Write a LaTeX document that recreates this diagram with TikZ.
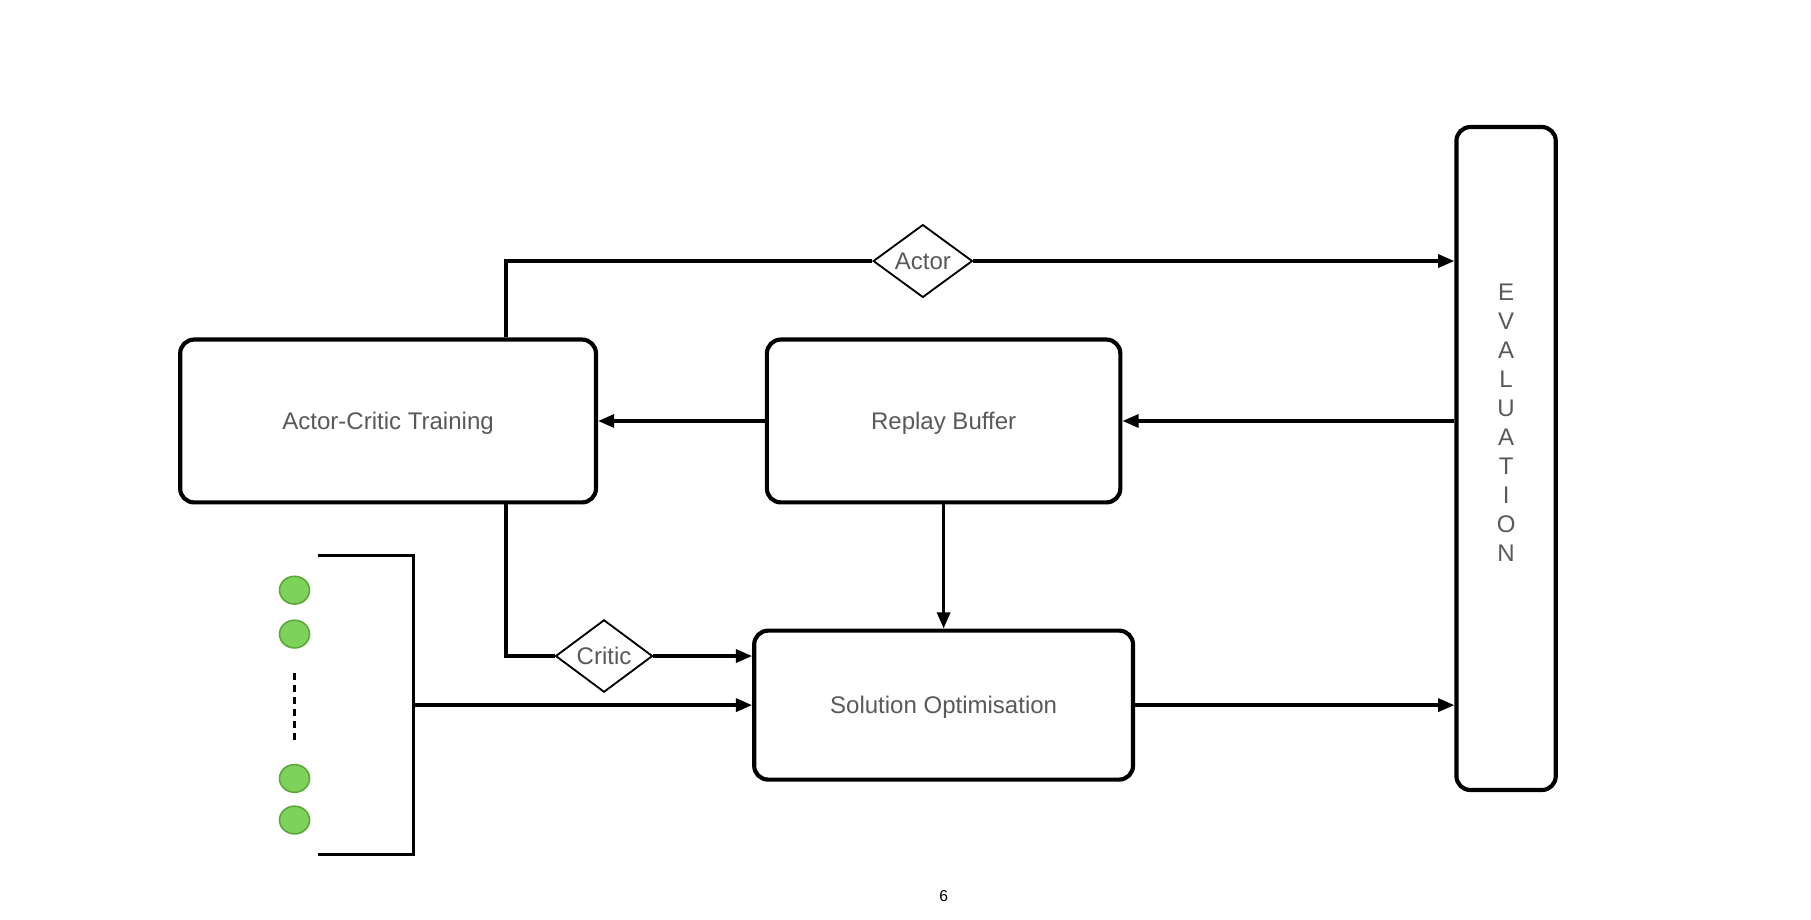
\documentclass[tikz,border=0pt]{standalone}
\usepackage{fontspec}
\setmainfont{Liberation Sans}
\usetikzlibrary{shapes.geometric,arrows.meta,calc}
\definecolor{txtgray}{HTML}{595959}
\definecolor{dotfill}{HTML}{7DD35A}
\definecolor{dotline}{HTML}{5DA83B}
\tikzset{
  box/.style={draw=black, line width=1.8pt, rounded corners=6pt, fill=white, inner sep=0pt,
    text=txtgray, font=\fontsize{10.4}{12.5}\selectfont, text depth=0pt},
  dia/.style={draw=black, line width=0.8pt, shape=diamond, inner sep=0pt, fill=white,
    text=txtgray, font=\fontsize{10.4}{12.5}\selectfont},
  conn/.style={line width=1.45pt},
  arr/.style={conn, -{Triangle[length=7pt,width=5.6pt]}},
  dot/.style={draw=dotline, line width=0.7pt, fill=dotfill, shape=ellipse, inner sep=0pt,
    minimum width=13pt, minimum height=12pt},
}
\begin{document}
\begin{tikzpicture}[x=0.5pt, y=-0.5pt]
\useasboundingbox (0,0) rectangle (1568,796);
% boxes
\node[box, minimum width=180pt, minimum height=70.5pt] (ac) at (336,364.5) {Actor-Critic Training};
\node[box, minimum width=153pt, minimum height=70.5pt] (rb) at (817,364.5) {Replay Buffer};
\node[box, minimum width=164pt, minimum height=64.5pt] (so) at (817,610.5) {Solution Optimisation};
\node[box, minimum width=43pt, minimum height=287pt] (ev) at (1304,397) {};
\node[text=txtgray, align=center, inner sep=0pt, font=\fontsize{10.4}{12.55}\selectfont] (evt) at (1304,366)
  {E\\V\\A\\L\\U\\A\\T\\I\\O\\N};
% diamonds
\node[dia, minimum width=43pt, minimum height=30pt] (actor) at (799,226) {Actor};
\node[dia, minimum width=42pt, minimum height=30pt] (critic) at (523,568) {Critic};
% connectors
\draw[conn] ([xshift=51pt]ac.north) |- (actor.west);
\draw[arr] (actor.east) -- (actor.east -| ev.west);
\draw[arr] (rb.west) -- (ac.east);
\draw[arr] (ev.west |- rb.east) -- (rb.east);
\draw[arr] (rb.south) -- (so.north);
\draw[conn] ([xshift=51pt]ac.south) |- (critic.west);
\draw[arr] (critic.east) -- (critic.east -| so.west);
\draw[arr] (so.east) -- (so.east -| ev.west);
% bracket
\coordinate (b1) at (275,481);
\coordinate (b2) at (358,481);
\coordinate (b3) at (358,740);
\coordinate (b4) at (275,740);
\coordinate (bm) at (358,610.5);
\draw[conn] (b1) -- (b2) -- (b3) -- (b4);
\draw[arr] (bm) -- (so.west);
% dots
\node[dot] (d1) at (255,511) {};
\node[dot] (d2) at (255,549) {};
\node[dot] (d3) at (255,674) {};
\node[dot] (d4) at (255,710) {};
\coordinate (ds) at (255,583);
\coordinate (de) at (255,641);
\draw[line width=1.3pt, dash pattern=on 2.9pt off 2.3pt] (ds) -- (de);
% page number
\node[font=\fontsize{6.8}{8}\selectfont, inner sep=0pt] (pg) at (817,776) {6};
\end{tikzpicture}
\end{document}
